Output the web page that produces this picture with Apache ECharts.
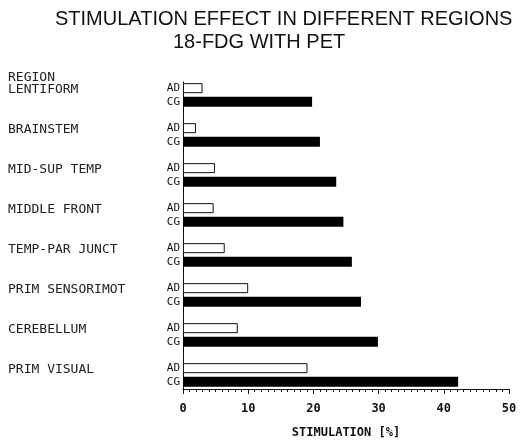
<!DOCTYPE html>
<html>
<head>
<meta charset="utf-8">
<script src="https://cdn.jsdelivr.net/npm/echarts@6/dist/echarts.min.js"></script>
<style>
  html, body { margin: 0; padding: 0; background: #fff; }
  #chart { width: 524px; height: 441px; }
</style>
</head>
<body>
<div id="chart"></div>
<script>
// regions, top to bottom
var regions = ['LENTIFORM', 'BRAINSTEM', 'MID-SUP TEMP', 'MIDDLE FRONT',
               'TEMP-PAR JUNCT', 'PRIM SENSORIMOT', 'CEREBELLUM', 'PRIM VISUAL'];
// stimulation [%]
var adValues = [3.0, 2.0, 4.9, 4.7, 6.4, 10.0, 8.4, 19.1];
var cgValues = [19.8, 21.0, 23.5, 24.6, 25.9, 27.3, 29.9, 42.2];
var xTicks = [0, 10, 20, 30, 40, 50];

var mono = 'DejaVu Sans Mono';
var node = document.getElementById('chart');
var myChart = echarts.init(node, null, {renderer: 'canvas'});

myChart.setOption({
    animation: false,
    backgroundColor: '#fff',
    title: [
        {text: 'STIMULATION EFFECT IN DIFFERENT REGIONS', left: 55, top: 9, padding: 0,
         textStyle: {fontFamily: 'Liberation Sans', fontSize: 20, fontWeight: 'normal', color: '#111'}},
        {text: '18-FDG WITH PET', left: 173, top: 32, padding: 0,
         textStyle: {fontFamily: 'Liberation Sans', fontSize: 20, fontWeight: 'normal', color: '#111'}}
    ],
    graphic: [
        {type: 'text', left: 8, top: 71,
         style: {text: 'REGION', font: '13px "DejaVu Sans Mono"', fill: '#222'}}
    ],
    grid: [
        // bars
        {left: 183, width: 326, top: 75, height: 320, outerBoundsMode: 'none', containLabel: false},
        // visible axes
        {left: 183, width: 326, top: 82, height: 307, outerBoundsMode: 'none', containLabel: false}
    ],
    xAxis: [
        {gridIndex: 0, type: 'value', min: 0, max: 50, show: false},
        {gridIndex: 1, type: 'value', min: xTicks[0], max: xTicks[xTicks.length - 1], interval: 10,
         z: 5,
         axisLine: {show: true, lineStyle: {color: '#111', width: 1}},
         axisTick: {show: true, length: 5, lineStyle: {color: '#111'}},
         minorTick: {show: true, splitNumber: 10, length: 3, lineStyle: {color: '#111'}},
         splitLine: {show: false},
         axisLabel: {margin: 14, fontFamily: mono, fontWeight: 'bold', fontSize: 12, color: '#111'},
         name: 'STIMULATION [%]', nameLocation: 'middle', nameGap: 38,
         nameTextStyle: {fontFamily: mono, fontWeight: 'bold', fontSize: 12, color: '#111'}}
    ],
    yAxis: [
        {gridIndex: 0, type: 'category', data: regions, inverse: true,
         axisLine: {show: false}, axisTick: {show: false},
         axisLabel: {align: 'left', margin: 175, fontFamily: mono, fontSize: 13, color: '#222',
                     verticalAlign: 'bottom', lineHeight: 10}},
        {gridIndex: 1, type: 'value', min: 0, max: 1,
         axisLine: {show: true, lineStyle: {color: '#111', width: 1}},
         axisTick: {show: false}, axisLabel: {show: false}, splitLine: {show: false}}
    ],
    series: [
        {name: 'AD', type: 'bar', xAxisIndex: 0, yAxisIndex: 0, data: adValues,
         barWidth: 10, barGap: '37%',
         itemStyle: {color: '#fff', borderColor: '#111', borderWidth: 1},
         label: {show: true, position: 'left', distance: 3, formatter: 'AD',
                 fontFamily: mono, fontSize: 11, color: '#111'}},
        {name: 'CG', type: 'bar', xAxisIndex: 0, yAxisIndex: 0, data: cgValues,
         barWidth: 10,
         itemStyle: {color: '#000'},
         label: {show: true, position: 'left', distance: 3, formatter: 'CG',
                 fontFamily: mono, fontSize: 11, color: '#111'}}
    ]
});
</script>
</body>
</html>
